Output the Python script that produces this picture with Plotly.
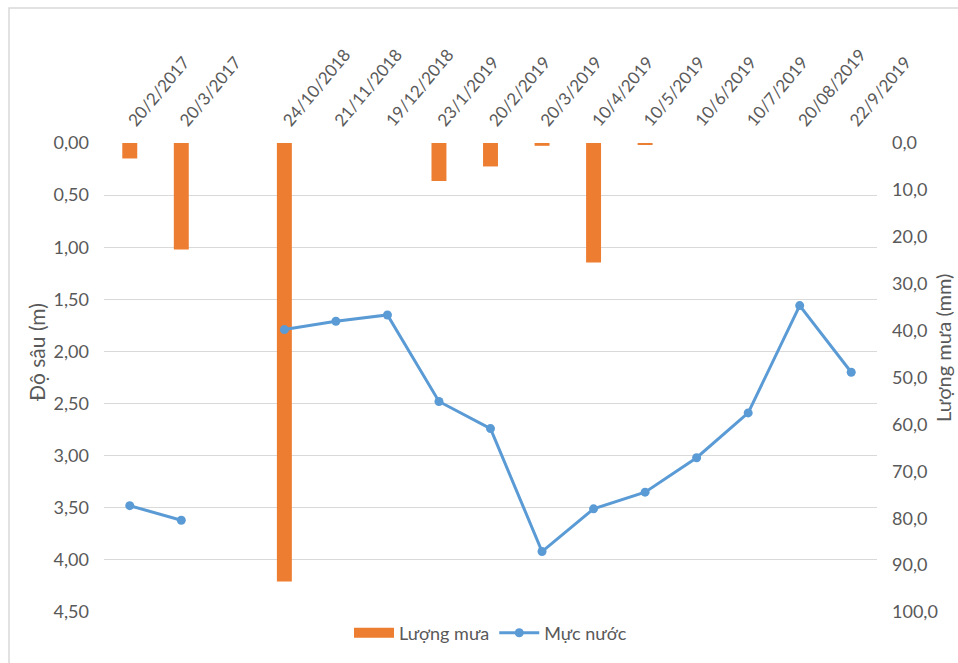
import plotly.graph_objects as go

# Observation dates (one blank slot separates the 2017 and 2018 campaigns)
dates = ["20/2/2017", "20/3/2017", " ", "24/10/2018", "21/11/2018", "19/12/2018",
         "23/1/2019", "20/2/2019", "20/3/2019", "10/4/2019", "10/5/2019",
         "10/6/2019", "10/7/2019", "20/08/2019", "22/9/2019"]

# Rainfall (mm), right axis
rain_mm = [3.3, 22.7, None, 93.5, None, None, 8.1, 5.0, 0.6, 25.5, 0.3,
           None, None, None, None]

# Water table depth (m), left axis
depth_m = [3.48, 3.62, None, 1.79, 1.71, 1.65, 2.48, 2.74, 3.92, 3.51, 3.35,
           3.02, 2.59, 1.56, 2.20]

ORANGE = "#ED7D31"
BLUE = "#5B9BD5"
GRID = "#D9D9D9"
TEXT = "#595959"
FONT = "Lato"

fig = go.Figure()

fig.add_trace(go.Bar(
    x=dates, y=rain_mm, name="Lượng mưa",
    marker=dict(color=ORANGE, line=dict(width=0)),
    yaxis="y", showlegend=False, legendgroup="rain",
))

# Legend entry for the rainfall bars, drawn as a wide flat swatch
fig.add_trace(go.Scatter(
    x=[None], y=[None], name="Lượng mưa", mode="lines",
    line=dict(color=ORANGE, width=10), yaxis="y", legendgroup="rain",
))

fig.add_trace(go.Scatter(
    x=dates, y=depth_m, name="Mực nước",
    mode="lines+markers",
    line=dict(color=BLUE, width=3),
    marker=dict(color=BLUE, size=9, symbol="circle"),
    connectgaps=False,
    yaxis="y2",
))

# Plot area geometry (pixels) used to place titles and the frame
L, R, T, B = 104, 81, 143, 51
W, H = 958, 663
pw, ph = W - L - R, H - T - B

def px_x(x):
    return (x - L) / pw

def px_y(y):
    return (H - B - y) / ph

fig.update_layout(
    width=W, height=H,
    margin=dict(l=L, r=R, t=T, b=B),
    paper_bgcolor="white", plot_bgcolor="white",
    separators=",.",
    font=dict(family=FONT, size=17, color=TEXT),
    bargap=0.71,
    showlegend=True,
    legend=dict(orientation="h", x=0.5, xanchor="center",
                y=px_y(633), yanchor="middle",
                font=dict(family=FONT, size=18, color=TEXT),
                itemwidth=40, tracegroupgap=0),
    xaxis=dict(type="category", categoryorder="array", categoryarray=dates,
               range=[-0.5, len(dates) - 0.5],
               side="top", tickangle=-50, showgrid=False, showline=False,
               ticks="", zeroline=False, ticklabelstandoff=8,
               tickfont=dict(family=FONT, size=17, color=TEXT)),
    yaxis=dict(side="right", range=[100, 0], dtick=10, tickformat=".1f",
               showgrid=False, zeroline=False,
               showline=False, ticks="", ticklabelstandoff=14,
               tickfont=dict(family=FONT, size=18, color=TEXT)),
    yaxis2=dict(side="left", overlaying="y", range=[4.5, 0], dtick=0.5,
                tickformat=".2f", showgrid=True, gridcolor=GRID, gridwidth=1,
                zeroline=False, showline=False, ticks="", ticklabelstandoff=14,
                tickfont=dict(family=FONT, size=18, color=TEXT)),
    annotations=[
        dict(text="Độ sâu (m)", textangle=-90, showarrow=False,
             xref="paper", yref="paper", x=px_x(36), y=px_y(352),
             xanchor="center", yanchor="middle",
             font=dict(family=FONT, size=21, color=TEXT)),
        dict(text="Lượng mưa (mm)", textangle=-90, showarrow=False,
             xref="paper", yref="paper", x=px_x(943), y=px_y(348),
             xanchor="center", yanchor="middle",
             font=dict(family=FONT, size=20, color=TEXT)),
    ],
    shapes=[
        dict(type="rect", xref="paper", yref="paper",
             x0=px_x(9), x1=px_x(990), y0=px_y(720), y1=px_y(8),
             line=dict(color=GRID, width=1.5), fillcolor="rgba(0,0,0,0)",
             layer="below"),
    ],
)

fig.write_html("out.html")
